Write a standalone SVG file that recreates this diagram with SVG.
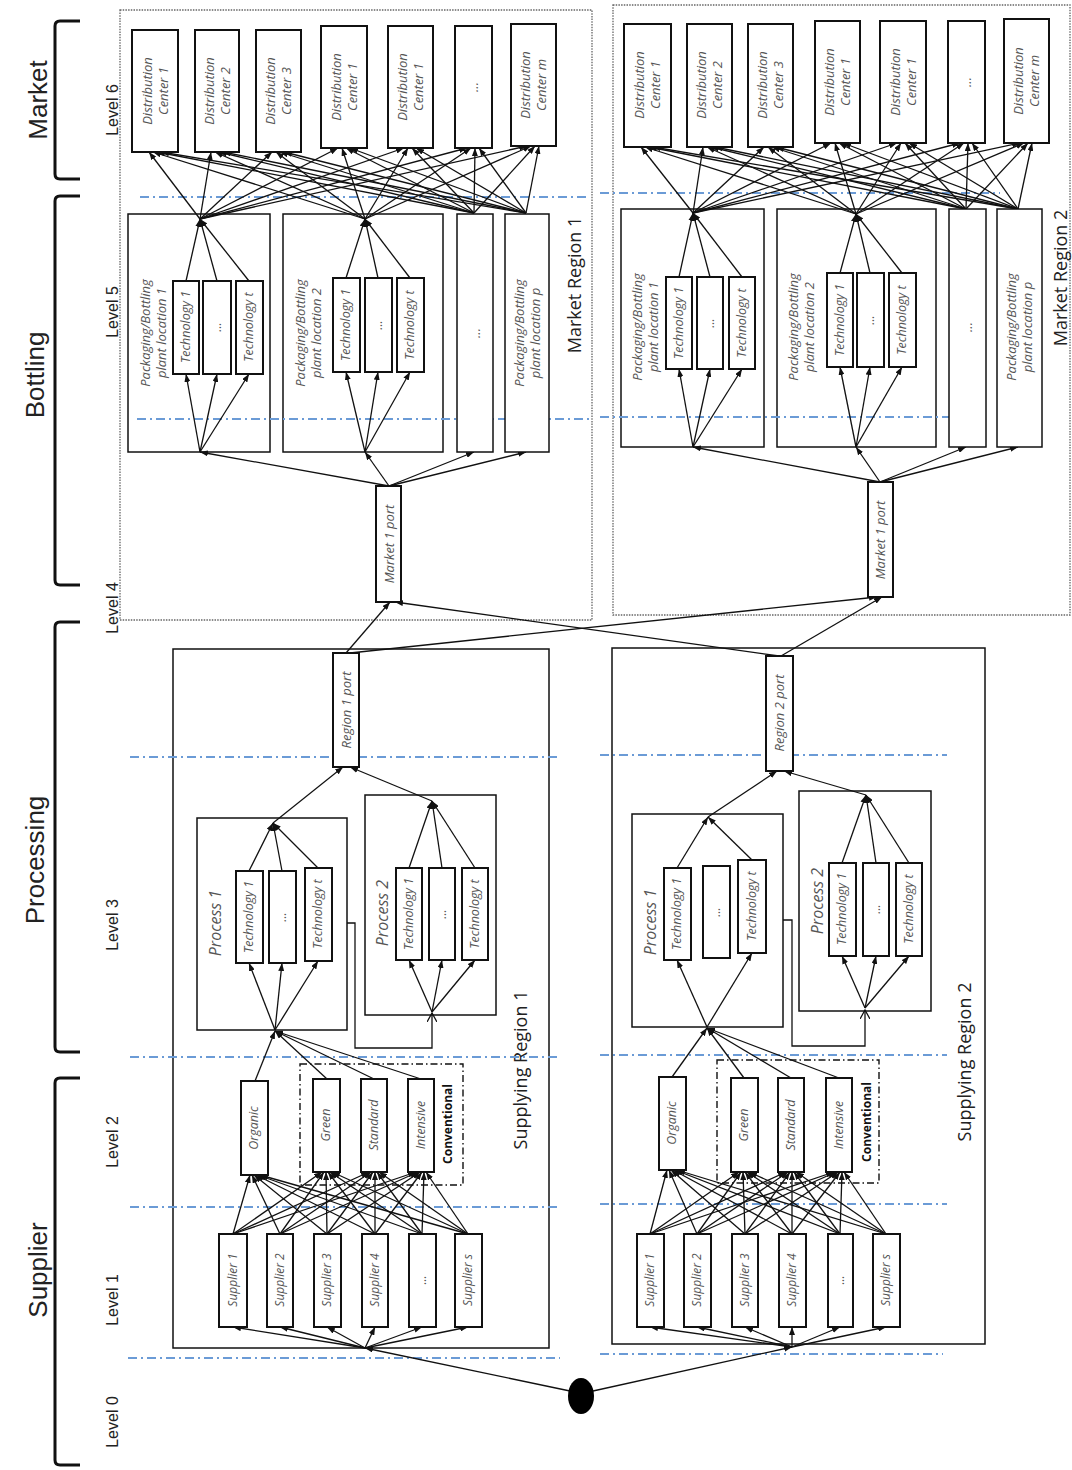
<svg xmlns="http://www.w3.org/2000/svg" width="1072" height="1470" viewBox="0 0 1072 1470">
<style>
.bx{fill:#fff;stroke:#111;stroke-width:2}
.ct{fill:#fff;stroke:#111;stroke-width:1.5}
.dot{fill:none;stroke:#666;stroke-width:1.3;stroke-dasharray:1.5 1.2}
.dd{fill:none;stroke:#111;stroke-width:1.4;stroke-dasharray:7 3 1.5 3}
.bl{stroke:#6b9bd6;stroke-width:2;stroke-dasharray:9 4 2 4;fill:none}
.c line,.c path{stroke:#111;stroke-width:1.3;fill:none;marker-end:url(#a)}
.c .fb{marker-end:url(#o)}
.br{fill:none;stroke:#111;stroke-width:3}
.t{font-family:"Open Sans","Liberation Sans",sans-serif;font-style:italic;font-size:13px;fill:#555;text-anchor:middle}
.tt{font-size:12.5px}
.ts{font-size:12px}
.tp{font-size:16px}
.cv{font-family:"Open Sans","Liberation Sans",sans-serif;font-weight:bold;font-size:12px;fill:#111;text-anchor:middle}
.rg{font-family:"Open Sans","Liberation Sans",sans-serif;font-size:18px;fill:#222;text-anchor:middle}
.big{font-family:"Liberation Sans",sans-serif;font-size:26px;fill:#222;text-anchor:middle}
.lv{font-family:"Liberation Sans",sans-serif;font-size:16px;fill:#222;text-anchor:middle}
</style>
<defs>
<marker id="a" markerUnits="userSpaceOnUse" viewBox="0 0 8 6" refX="8" refY="3" markerWidth="8" markerHeight="6" orient="auto"><path d="M0,0 L8,3 L0,6 z" fill="#111"/></marker>
<marker id="o" markerUnits="userSpaceOnUse" viewBox="0 0 10 10" refX="9" refY="5" markerWidth="10" markerHeight="10" orient="auto"><path d="M0,0 L9,5 L0,10" fill="none" stroke="#111" stroke-width="1.3"/></marker>
</defs>
<rect width="1072" height="1470" fill="#fff"/>

<g id="stage-labels">
<path class="br" d="M80,21 H60 Q55,21 55,26 V174 Q55,179 60,179 H80"/>
<path class="br" d="M80,196 H60 Q55,196 55,201 V580 Q55,585 60,585 H80"/>
<path class="br" d="M80,622 H60 Q55,622 55,627 V1047 Q55,1052 60,1052 H80"/>
<path class="br" d="M80,1078 H60 Q55,1078 55,1083 V1460 Q55,1465 60,1465 H80"/>
<text class="big" transform="translate(38,100) rotate(-90)" dy="0.35em">Market</text>
<text class="big" transform="translate(35,375) rotate(-90)" dy="0.35em">Bottling</text>
<text class="big" transform="translate(35,860) rotate(-90)" dy="0.35em">Processing</text>
<text class="big" transform="translate(38,1270) rotate(-90)" dy="0.35em">Supplier</text>
<text class="lv" transform="translate(112,110) rotate(-90)" dy="0.35em">Level 6</text>
<text class="lv" transform="translate(112,312) rotate(-90)" dy="0.35em">Level 5</text>
<text class="lv" transform="translate(112,608) rotate(-90)" dy="0.35em">Level 4</text>
<text class="lv" transform="translate(112,925) rotate(-90)" dy="0.35em">Level 3</text>
<text class="lv" transform="translate(112,1142) rotate(-90)" dy="0.35em">Level 2</text>
<text class="lv" transform="translate(112,1300) rotate(-90)" dy="0.35em">Level 1</text>
<text class="lv" transform="translate(112,1422) rotate(-90)" dy="0.35em">Level 0</text>
</g>

<g id="containers">
<rect id="market-region-1" class="dot" x="120" y="10" width="472" height="610"/>
<rect id="market-region-2" class="dot" x="613" y="5" width="457" height="610"/>
<rect id="supplying-region-1" class="ct" x="173" y="649" width="376" height="699"/>
<rect id="supplying-region-2" class="ct" x="612" y="648" width="373" height="696"/>
<rect id="pkg1-1" class="ct" x="128" y="214" width="142" height="238"/>
<rect id="pkg1-2" class="ct" x="283" y="214" width="160" height="238"/>
<rect id="pkg2-1" class="ct" x="621" y="209" width="143" height="238"/>
<rect id="pkg2-2" class="ct" x="777" y="209" width="159" height="238"/>
<rect id="proc1-1" class="ct" x="197" y="818" width="150" height="212"/>
<rect id="proc1-2" class="ct" x="365" y="795" width="131" height="220"/>
<rect id="proc2-1" class="ct" x="632" y="814" width="151" height="213"/>
<rect id="proc2-2" class="ct" x="799" y="791" width="132" height="220"/>
<rect id="conv-1" class="dd" x="300" y="1064" width="163" height="121"/>
<rect id="conv-2" class="dd" x="717" y="1060" width="162" height="123"/>
<text class="rg" transform="translate(575,285) rotate(-90)" dy="0.35em">Market Region 1</text>
<text class="rg" transform="translate(1061,278) rotate(-90)" dy="0.35em">Market Region 2</text>
<text class="rg" transform="translate(521,1070) rotate(-90)" dy="0.35em">Supplying Region 1</text>
<text class="rg" transform="translate(965,1062) rotate(-90)" dy="0.35em">Supplying Region 2</text>
<text class="t" transform="translate(153,333) rotate(-90)"><tspan x="0" y="-3">Packaging/Bottling</tspan><tspan x="0" y="13">plant location 1</tspan></text>
<text class="t" transform="translate(308,333) rotate(-90)"><tspan x="0" y="-3">Packaging/Bottling</tspan><tspan x="0" y="13">plant location 2</tspan></text>
<text class="t" transform="translate(645,327) rotate(-90)"><tspan x="0" y="-3">Packaging/Bottling</tspan><tspan x="0" y="13">plant location 1</tspan></text>
<text class="t" transform="translate(801,327) rotate(-90)"><tspan x="0" y="-3">Packaging/Bottling</tspan><tspan x="0" y="13">plant location 2</tspan></text>
<text class="t tp" transform="translate(215,923) rotate(-90)" dy="0.35em">Process 1</text>
<text class="t tp" transform="translate(382,913) rotate(-90)" dy="0.35em">Process 2</text>
<text class="t tp" transform="translate(650,922) rotate(-90)" dy="0.35em">Process 1</text>
<text class="t tp" transform="translate(817,901) rotate(-90)" dy="0.35em">Process 2</text>
<text class="cv" transform="translate(448,1124) rotate(-90)" dy="0.35em">Conventional</text>
<text class="cv" transform="translate(867,1122) rotate(-90)" dy="0.35em">Conventional</text>
</g>

<g id="level-separators">
<line class="bl" x1="140" y1="197" x2="590" y2="197"/>
<line class="bl" x1="137" y1="419" x2="590" y2="419"/>
<line class="bl" x1="130" y1="757" x2="560" y2="757"/>
<line class="bl" x1="130" y1="1057" x2="560" y2="1057"/>
<line class="bl" x1="130" y1="1207" x2="560" y2="1207"/>
<line class="bl" x1="128" y1="1358" x2="560" y2="1358"/>
<line class="bl" x1="600" y1="193" x2="1000" y2="193"/>
<line class="bl" x1="600" y1="417" x2="955" y2="417"/>
<line class="bl" x1="600" y1="755" x2="947" y2="755"/>
<line class="bl" x1="600" y1="1055" x2="947" y2="1055"/>
<line class="bl" x1="600" y1="1204" x2="947" y2="1204"/>
<line class="bl" x1="600" y1="1354" x2="943" y2="1354"/>
</g>

<g id="connectors" class="c">
<line x1="200" y1="219" x2="149" y2="152"/><line x1="200" y1="219" x2="211" y2="152"/><line x1="200" y1="219" x2="272" y2="152"/><line x1="200" y1="219" x2="338" y2="148"/><line x1="200" y1="219" x2="404" y2="148"/><line x1="200" y1="219" x2="467" y2="148"/><line x1="200" y1="219" x2="527" y2="146"/>
<line x1="365" y1="219" x2="153" y2="152"/><line x1="365" y1="219" x2="215" y2="152"/><line x1="365" y1="219" x2="276" y2="152"/><line x1="365" y1="219" x2="342" y2="148"/><line x1="365" y1="219" x2="408" y2="148"/><line x1="365" y1="219" x2="471" y2="148"/><line x1="365" y1="219" x2="531" y2="146"/>
<line x1="474" y1="213" x2="157" y2="152"/><line x1="474" y1="213" x2="219" y2="152"/><line x1="474" y1="213" x2="280" y2="152"/><line x1="474" y1="213" x2="346" y2="148"/><line x1="474" y1="213" x2="412" y2="148"/><line x1="474" y1="213" x2="475" y2="148"/><line x1="474" y1="213" x2="535" y2="146"/>
<line x1="526" y1="213" x2="161" y2="152"/><line x1="526" y1="213" x2="223" y2="152"/><line x1="526" y1="213" x2="284" y2="152"/><line x1="526" y1="213" x2="350" y2="148"/><line x1="526" y1="213" x2="416" y2="148"/><line x1="526" y1="213" x2="479" y2="148"/><line x1="526" y1="213" x2="539" y2="146"/>
<line x1="693" y1="213" x2="641" y2="147"/><line x1="693" y1="213" x2="703" y2="147"/><line x1="693" y1="213" x2="764" y2="147"/><line x1="693" y1="213" x2="831" y2="143"/><line x1="693" y1="213" x2="897" y2="143"/><line x1="693" y1="213" x2="960" y2="143"/><line x1="693" y1="213" x2="1020" y2="143"/>
<line x1="856" y1="214" x2="645" y2="147"/><line x1="856" y1="214" x2="707" y2="147"/><line x1="856" y1="214" x2="768" y2="147"/><line x1="856" y1="214" x2="835" y2="143"/><line x1="856" y1="214" x2="901" y2="143"/><line x1="856" y1="214" x2="964" y2="143"/><line x1="856" y1="214" x2="1024" y2="143"/>
<line x1="966" y1="209" x2="649" y2="147"/><line x1="966" y1="209" x2="711" y2="147"/><line x1="966" y1="209" x2="772" y2="147"/><line x1="966" y1="209" x2="839" y2="143"/><line x1="966" y1="209" x2="905" y2="143"/><line x1="966" y1="209" x2="968" y2="143"/><line x1="966" y1="209" x2="1028" y2="143"/>
<line x1="1018" y1="209" x2="653" y2="147"/><line x1="1018" y1="209" x2="715" y2="147"/><line x1="1018" y1="209" x2="776" y2="147"/><line x1="1018" y1="209" x2="843" y2="143"/><line x1="1018" y1="209" x2="909" y2="143"/><line x1="1018" y1="209" x2="972" y2="143"/><line x1="1018" y1="209" x2="1032" y2="143"/>
<line x1="389" y1="486" x2="200" y2="452"/><line x1="389" y1="486" x2="365" y2="452"/><line x1="389" y1="486" x2="474" y2="452"/><line x1="389" y1="486" x2="526" y2="452"/>
<line x1="880" y1="482" x2="693" y2="447"/><line x1="880" y1="482" x2="856" y2="447"/><line x1="880" y1="482" x2="966" y2="447"/><line x1="880" y1="482" x2="1018" y2="447"/>
<line x1="200" y1="452" x2="186" y2="374"/><line x1="200" y1="452" x2="217" y2="374"/><line x1="200" y1="452" x2="249" y2="374"/>
<line x1="186" y1="281" x2="200" y2="219"/><line x1="217" y1="281" x2="200" y2="219"/><line x1="249" y1="281" x2="200" y2="219"/>
<line x1="365" y1="452" x2="346" y2="372"/><line x1="365" y1="452" x2="378" y2="372"/><line x1="365" y1="452" x2="410" y2="372"/>
<line x1="346" y1="278" x2="365" y2="219"/><line x1="378" y1="278" x2="365" y2="219"/><line x1="410" y1="278" x2="365" y2="219"/>
<line x1="693" y1="447" x2="679" y2="369"/><line x1="693" y1="447" x2="710" y2="369"/><line x1="693" y1="447" x2="742" y2="369"/>
<line x1="679" y1="277" x2="693" y2="213"/><line x1="710" y1="277" x2="693" y2="213"/><line x1="742" y1="277" x2="693" y2="213"/>
<line x1="856" y1="447" x2="840" y2="367"/><line x1="856" y1="447" x2="870" y2="367"/><line x1="856" y1="447" x2="902" y2="367"/>
<line x1="840" y1="273" x2="856" y2="214"/><line x1="870" y1="273" x2="856" y2="214"/><line x1="902" y1="273" x2="856" y2="214"/>
<line x1="346" y1="653" x2="390" y2="602"/><line x1="350" y1="653" x2="877" y2="597"/><line x1="779" y1="656" x2="395" y2="602"/><line x1="781" y1="656" x2="882" y2="597"/>
<line x1="273" y1="823" x2="343" y2="767"/><line x1="432" y1="801" x2="350" y2="767"/>
<line x1="275" y1="1030" x2="249" y2="963"/><line x1="275" y1="1030" x2="282" y2="963"/><line x1="275" y1="1030" x2="318" y2="961"/>
<line x1="249" y1="871" x2="273" y2="823"/><line x1="282" y1="871" x2="273" y2="823"/><line x1="318" y1="868" x2="273" y2="823"/>
<line x1="432" y1="1012" x2="409" y2="960"/><line x1="432" y1="1012" x2="442" y2="960"/><line x1="432" y1="1012" x2="475" y2="960"/>
<line x1="409" y1="868" x2="432" y2="801"/><line x1="442" y1="868" x2="432" y2="801"/><line x1="475" y1="868" x2="432" y2="801"/>
<path class="fb" d="M347,923 H355 V1048 H432 V1013"/>
<line x1="255" y1="1081" x2="275" y2="1031"/><line x1="327" y1="1079" x2="275" y2="1031"/><line x1="374" y1="1079" x2="275" y2="1031"/><line x1="421" y1="1079" x2="275" y2="1031"/>
<line x1="708" y1="817" x2="777" y2="771"/><line x1="866" y1="795" x2="784" y2="771"/>
<line x1="707" y1="1027" x2="677" y2="960"/><line x1="707" y1="1027" x2="752" y2="953"/>
<line x1="677" y1="868" x2="708" y2="817"/><line x1="752" y1="860" x2="708" y2="817"/>
<line x1="865" y1="1008" x2="842" y2="956"/><line x1="865" y1="1008" x2="876" y2="956"/><line x1="865" y1="1008" x2="909" y2="956"/>
<line x1="842" y1="863" x2="866" y2="795"/><line x1="876" y1="863" x2="866" y2="795"/><line x1="909" y1="863" x2="866" y2="795"/>
<path class="fb" d="M783,920 H792 V1046 H865 V1010"/>
<line x1="672" y1="1077" x2="707" y2="1028"/><line x1="744" y1="1078" x2="707" y2="1028"/><line x1="791" y1="1078" x2="707" y2="1028"/><line x1="839" y1="1078" x2="707" y2="1028"/>
<line x1="233" y1="1234" x2="250" y2="1175"/><line x1="280" y1="1234" x2="252" y2="1175"/><line x1="327" y1="1234" x2="254" y2="1175"/><line x1="375" y1="1234" x2="256" y2="1175"/><line x1="422" y1="1234" x2="258" y2="1175"/><line x1="468" y1="1234" x2="260" y2="1175"/>
<line x1="233" y1="1234" x2="322" y2="1172"/><line x1="280" y1="1234" x2="324" y2="1172"/><line x1="327" y1="1234" x2="326" y2="1172"/><line x1="375" y1="1234" x2="328" y2="1172"/><line x1="422" y1="1234" x2="330" y2="1172"/><line x1="468" y1="1234" x2="332" y2="1172"/>
<line x1="233" y1="1234" x2="369" y2="1172"/><line x1="280" y1="1234" x2="371" y2="1172"/><line x1="327" y1="1234" x2="373" y2="1172"/><line x1="375" y1="1234" x2="375" y2="1172"/><line x1="422" y1="1234" x2="377" y2="1172"/><line x1="468" y1="1234" x2="379" y2="1172"/>
<line x1="233" y1="1234" x2="416" y2="1172"/><line x1="280" y1="1234" x2="418" y2="1172"/><line x1="327" y1="1234" x2="420" y2="1172"/><line x1="375" y1="1234" x2="422" y2="1172"/><line x1="422" y1="1234" x2="424" y2="1172"/><line x1="468" y1="1234" x2="426" y2="1172"/>
<line x1="650" y1="1234" x2="667" y2="1170"/><line x1="697" y1="1234" x2="669" y2="1170"/><line x1="745" y1="1234" x2="671" y2="1170"/><line x1="792" y1="1234" x2="673" y2="1170"/><line x1="840" y1="1234" x2="675" y2="1170"/><line x1="886" y1="1234" x2="677" y2="1170"/>
<line x1="650" y1="1234" x2="739" y2="1172"/><line x1="697" y1="1234" x2="741" y2="1172"/><line x1="745" y1="1234" x2="743" y2="1172"/><line x1="792" y1="1234" x2="745" y2="1172"/><line x1="840" y1="1234" x2="747" y2="1172"/><line x1="886" y1="1234" x2="749" y2="1172"/>
<line x1="650" y1="1234" x2="786" y2="1172"/><line x1="697" y1="1234" x2="788" y2="1172"/><line x1="745" y1="1234" x2="790" y2="1172"/><line x1="792" y1="1234" x2="792" y2="1172"/><line x1="840" y1="1234" x2="794" y2="1172"/><line x1="886" y1="1234" x2="796" y2="1172"/>
<line x1="650" y1="1234" x2="834" y2="1172"/><line x1="697" y1="1234" x2="836" y2="1172"/><line x1="745" y1="1234" x2="838" y2="1172"/><line x1="792" y1="1234" x2="840" y2="1172"/><line x1="840" y1="1234" x2="842" y2="1172"/><line x1="886" y1="1234" x2="844" y2="1172"/>
<line x1="365" y1="1348" x2="233" y2="1327"/><line x1="365" y1="1348" x2="280" y2="1327"/><line x1="365" y1="1348" x2="327" y2="1327"/><line x1="365" y1="1348" x2="375" y2="1327"/><line x1="365" y1="1348" x2="422" y2="1327"/><line x1="365" y1="1348" x2="468" y2="1327"/>
<line x1="792" y1="1347" x2="650" y2="1327"/><line x1="792" y1="1347" x2="697" y2="1327"/><line x1="792" y1="1347" x2="745" y2="1327"/><line x1="792" y1="1347" x2="792" y2="1327"/><line x1="792" y1="1347" x2="840" y2="1327"/><line x1="792" y1="1347" x2="886" y2="1327"/>
<line x1="570" y1="1391" x2="365" y2="1348"/><line x1="593" y1="1391" x2="792" y2="1347"/>
</g>

<g id="nodes">
<g id="dc1-1"><rect class="bx" x="132" y="30" width="46" height="122"/><text class="t" transform="translate(155,91) rotate(-90)"><tspan x="0" y="-3">Distribution</tspan><tspan x="0" y="13">Center 1</tspan></text></g>
<g id="dc1-2"><rect class="bx" x="195" y="30" width="44" height="122"/><text class="t" transform="translate(217,91) rotate(-90)"><tspan x="0" y="-3">Distribution</tspan><tspan x="0" y="13">Center 2</tspan></text></g>
<g id="dc1-3"><rect class="bx" x="256" y="30" width="45" height="122"/><text class="t" transform="translate(278,91) rotate(-90)"><tspan x="0" y="-3">Distribution</tspan><tspan x="0" y="13">Center 3</tspan></text></g>
<g id="dc1-4"><rect class="bx" x="321" y="26" width="46" height="122"/><text class="t" transform="translate(344,87) rotate(-90)"><tspan x="0" y="-3">Distribution</tspan><tspan x="0" y="13">Center 1</tspan></text></g>
<g id="dc1-5"><rect class="bx" x="388" y="26" width="45" height="122"/><text class="t" transform="translate(410,87) rotate(-90)"><tspan x="0" y="-3">Distribution</tspan><tspan x="0" y="13">Center 1</tspan></text></g>
<g id="dc1-6"><rect class="bx" x="455" y="26" width="37" height="122"/><text class="t" transform="translate(473,87) rotate(-90)" dy="0.35em">...</text></g>
<g id="dc1-7"><rect class="bx" x="511" y="24" width="45" height="122"/><text class="t" transform="translate(533,85) rotate(-90)"><tspan x="0" y="-3">Distribution</tspan><tspan x="0" y="13">Center m</tspan></text></g>

<g id="dc2-1"><rect class="bx" x="624" y="24" width="47" height="123"/><text class="t" transform="translate(647,85) rotate(-90)"><tspan x="0" y="-3">Distribution</tspan><tspan x="0" y="13">Center 1</tspan></text></g>
<g id="dc2-2"><rect class="bx" x="687" y="24" width="45" height="123"/><text class="t" transform="translate(709,85) rotate(-90)"><tspan x="0" y="-3">Distribution</tspan><tspan x="0" y="13">Center 2</tspan></text></g>
<g id="dc2-3"><rect class="bx" x="748" y="24" width="45" height="123"/><text class="t" transform="translate(770,85) rotate(-90)"><tspan x="0" y="-3">Distribution</tspan><tspan x="0" y="13">Center 3</tspan></text></g>
<g id="dc2-4"><rect class="bx" x="815" y="21" width="45" height="122"/><text class="t" transform="translate(837,82) rotate(-90)"><tspan x="0" y="-3">Distribution</tspan><tspan x="0" y="13">Center 1</tspan></text></g>
<g id="dc2-5"><rect class="bx" x="880" y="21" width="46" height="122"/><text class="t" transform="translate(903,82) rotate(-90)"><tspan x="0" y="-3">Distribution</tspan><tspan x="0" y="13">Center 1</tspan></text></g>
<g id="dc2-6"><rect class="bx" x="948" y="21" width="37" height="122"/><text class="t" transform="translate(966,82) rotate(-90)" dy="0.35em">...</text></g>
<g id="dc2-7"><rect class="bx" x="1004" y="19" width="45" height="124"/><text class="t" transform="translate(1026,81) rotate(-90)"><tspan x="0" y="-3">Distribution</tspan><tspan x="0" y="13">Center m</tspan></text></g>

<g id="pkg1-3"><rect class="ct" x="457" y="214" width="36" height="238"/><text class="t" transform="translate(475,333) rotate(-90)" dy="0.35em">...</text></g>
<g id="pkg1-4"><rect class="ct" x="505" y="214" width="44" height="238"/><text class="t" transform="translate(527,333) rotate(-90)"><tspan x="0" y="-3">Packaging/Bottling</tspan><tspan x="0" y="13">plant location p</tspan></text></g>
<g id="pkg2-3"><rect class="ct" x="949" y="209" width="37" height="238"/><text class="t" transform="translate(967,327) rotate(-90)" dy="0.35em">...</text></g>
<g id="pkg2-4"><rect class="ct" x="997" y="209" width="45" height="238"/><text class="t" transform="translate(1019,327) rotate(-90)"><tspan x="0" y="-3">Packaging/Bottling</tspan><tspan x="0" y="13">plant location p</tspan></text></g>

<g id="bt1-1-1"><rect class="bx" x="173" y="281" width="26" height="93"/><text class="t tt" transform="translate(186,327) rotate(-90)" dy="0.35em">Technology 1</text></g>
<g id="bt1-1-2"><rect class="bx" x="203" y="281" width="28" height="93"/><text class="t tt" transform="translate(217,327) rotate(-90)" dy="0.35em">...</text></g>
<g id="bt1-1-3"><rect class="bx" x="236" y="281" width="27" height="93"/><text class="t tt" transform="translate(249,327) rotate(-90)" dy="0.35em">Technology t</text></g>
<g id="bt1-2-1"><rect class="bx" x="333" y="278" width="27" height="94"/><text class="t tt" transform="translate(346,325) rotate(-90)" dy="0.35em">Technology 1</text></g>
<g id="bt1-2-2"><rect class="bx" x="365" y="278" width="27" height="94"/><text class="t tt" transform="translate(378,325) rotate(-90)" dy="0.35em">...</text></g>
<g id="bt1-2-3"><rect class="bx" x="397" y="278" width="27" height="94"/><text class="t tt" transform="translate(410,325) rotate(-90)" dy="0.35em">Technology t</text></g>
<g id="bt2-1-1"><rect class="bx" x="666" y="277" width="26" height="92"/><text class="t tt" transform="translate(679,323) rotate(-90)" dy="0.35em">Technology 1</text></g>
<g id="bt2-1-2"><rect class="bx" x="697" y="277" width="26" height="92"/><text class="t tt" transform="translate(710,323) rotate(-90)" dy="0.35em">...</text></g>
<g id="bt2-1-3"><rect class="bx" x="729" y="277" width="26" height="92"/><text class="t tt" transform="translate(742,323) rotate(-90)" dy="0.35em">Technology t</text></g>
<g id="bt2-2-1"><rect class="bx" x="827" y="273" width="26" height="94"/><text class="t tt" transform="translate(840,320) rotate(-90)" dy="0.35em">Technology 1</text></g>
<g id="bt2-2-2"><rect class="bx" x="857" y="273" width="27" height="94"/><text class="t tt" transform="translate(870,320) rotate(-90)" dy="0.35em">...</text></g>
<g id="bt2-2-3"><rect class="bx" x="889" y="273" width="27" height="94"/><text class="t tt" transform="translate(902,320) rotate(-90)" dy="0.35em">Technology t</text></g>

<g id="market1-port"><rect class="bx" x="376" y="486" width="25" height="116"/><text class="t" transform="translate(389,544) rotate(-90)" dy="0.35em">Market 1 port</text></g>
<g id="market2-port"><rect class="bx" x="868" y="482" width="25" height="115"/><text class="t" transform="translate(880,540) rotate(-90)" dy="0.35em">Market 1 port</text></g>
<g id="region1-port"><rect class="bx" x="333" y="653" width="26" height="114"/><text class="t" transform="translate(346,710) rotate(-90)" dy="0.35em">Region 1 port</text></g>
<g id="region2-port"><rect class="bx" x="766" y="656" width="27" height="115"/><text class="t" transform="translate(779,713) rotate(-90)" dy="0.35em">Region 2 port</text></g>

<g id="pt1-1-1"><rect class="bx" x="236" y="871" width="27" height="92"/><text class="t tt" transform="translate(249,917) rotate(-90)" dy="0.35em">Technology 1</text></g>
<g id="pt1-1-2"><rect class="bx" x="269" y="871" width="27" height="92"/><text class="t tt" transform="translate(282,917) rotate(-90)" dy="0.35em">...</text></g>
<g id="pt1-1-3"><rect class="bx" x="305" y="868" width="27" height="93"/><text class="t tt" transform="translate(318,914) rotate(-90)" dy="0.35em">Technology t</text></g>
<g id="pt1-2-1"><rect class="bx" x="396" y="868" width="26" height="92"/><text class="t tt" transform="translate(409,914) rotate(-90)" dy="0.35em">Technology 1</text></g>
<g id="pt1-2-2"><rect class="bx" x="429" y="868" width="26" height="92"/><text class="t tt" transform="translate(442,914) rotate(-90)" dy="0.35em">...</text></g>
<g id="pt1-2-3"><rect class="bx" x="462" y="868" width="26" height="92"/><text class="t tt" transform="translate(475,914) rotate(-90)" dy="0.35em">Technology t</text></g>
<g id="pt2-1-1"><rect class="bx" x="664" y="868" width="27" height="92"/><text class="t tt" transform="translate(677,914) rotate(-90)" dy="0.35em">Technology 1</text></g>
<g id="pt2-1-2"><rect class="bx" x="703" y="866" width="27" height="92"/><text class="t tt" transform="translate(716,912) rotate(-90)" dy="0.35em">...</text></g>
<g id="pt2-1-3"><rect class="bx" x="738" y="860" width="28" height="93"/><text class="t tt" transform="translate(752,906) rotate(-90)" dy="0.35em">Technology t</text></g>
<g id="pt2-2-1"><rect class="bx" x="829" y="863" width="27" height="93"/><text class="t tt" transform="translate(842,909) rotate(-90)" dy="0.35em">Technology 1</text></g>
<g id="pt2-2-2"><rect class="bx" x="863" y="863" width="26" height="93"/><text class="t tt" transform="translate(876,909) rotate(-90)" dy="0.35em">...</text></g>
<g id="pt2-2-3"><rect class="bx" x="896" y="863" width="26" height="93"/><text class="t tt" transform="translate(909,909) rotate(-90)" dy="0.35em">Technology t</text></g>

<g id="l2-1-organic"><rect class="bx" x="241" y="1081" width="27" height="94"/><text class="t tt" transform="translate(254,1128) rotate(-90)" dy="0.35em">Organic</text></g>
<g id="l2-1-green"><rect class="bx" x="313" y="1079" width="27" height="93"/><text class="t tt" transform="translate(326,1125) rotate(-90)" dy="0.35em">Green</text></g>
<g id="l2-1-standard"><rect class="bx" x="361" y="1079" width="26" height="93"/><text class="t tt" transform="translate(374,1125) rotate(-90)" dy="0.35em">Standard</text></g>
<g id="l2-1-intensive"><rect class="bx" x="408" y="1079" width="26" height="93"/><text class="t tt" transform="translate(421,1125) rotate(-90)" dy="0.35em">Intensive</text></g>
<g id="l2-2-organic"><rect class="bx" x="659" y="1077" width="27" height="93"/><text class="t tt" transform="translate(672,1123) rotate(-90)" dy="0.35em">Organic</text></g>
<g id="l2-2-green"><rect class="bx" x="731" y="1078" width="27" height="94"/><text class="t tt" transform="translate(744,1125) rotate(-90)" dy="0.35em">Green</text></g>
<g id="l2-2-standard"><rect class="bx" x="778" y="1078" width="26" height="94"/><text class="t tt" transform="translate(791,1125) rotate(-90)" dy="0.35em">Standard</text></g>
<g id="l2-2-intensive"><rect class="bx" x="826" y="1078" width="26" height="94"/><text class="t tt" transform="translate(839,1125) rotate(-90)" dy="0.35em">Intensive</text></g>

<g id="s1-1"><rect class="bx" x="219" y="1234" width="28" height="93"/><text class="t ts" transform="translate(233,1280) rotate(-90)" dy="0.35em">Supplier 1</text></g>
<g id="s1-2"><rect class="bx" x="267" y="1234" width="26" height="93"/><text class="t ts" transform="translate(280,1280) rotate(-90)" dy="0.35em">Supplier 2</text></g>
<g id="s1-3"><rect class="bx" x="314" y="1234" width="27" height="93"/><text class="t ts" transform="translate(327,1280) rotate(-90)" dy="0.35em">Supplier 3</text></g>
<g id="s1-4"><rect class="bx" x="362" y="1234" width="26" height="93"/><text class="t ts" transform="translate(375,1280) rotate(-90)" dy="0.35em">Supplier 4</text></g>
<g id="s1-5"><rect class="bx" x="409" y="1234" width="27" height="93"/><text class="t ts" transform="translate(422,1280) rotate(-90)" dy="0.35em">...</text></g>
<g id="s1-6"><rect class="bx" x="455" y="1234" width="27" height="93"/><text class="t ts" transform="translate(468,1280) rotate(-90)" dy="0.35em">Supplier s</text></g>
<g id="s2-1"><rect class="bx" x="637" y="1234" width="27" height="93"/><text class="t ts" transform="translate(650,1280) rotate(-90)" dy="0.35em">Supplier 1</text></g>
<g id="s2-2"><rect class="bx" x="684" y="1234" width="27" height="93"/><text class="t ts" transform="translate(697,1280) rotate(-90)" dy="0.35em">Supplier 2</text></g>
<g id="s2-3"><rect class="bx" x="732" y="1234" width="26" height="93"/><text class="t ts" transform="translate(745,1280) rotate(-90)" dy="0.35em">Supplier 3</text></g>
<g id="s2-4"><rect class="bx" x="779" y="1234" width="27" height="93"/><text class="t ts" transform="translate(792,1280) rotate(-90)" dy="0.35em">Supplier 4</text></g>
<g id="s2-5"><rect class="bx" x="828" y="1234" width="25" height="93"/><text class="t ts" transform="translate(840,1280) rotate(-90)" dy="0.35em">...</text></g>
<g id="s2-6"><rect class="bx" x="873" y="1234" width="27" height="93"/><text class="t ts" transform="translate(886,1280) rotate(-90)" dy="0.35em">Supplier s</text></g>

<g id="root"><ellipse cx="581" cy="1396" rx="13" ry="18" fill="#000"/></g>
</g>
</svg>
